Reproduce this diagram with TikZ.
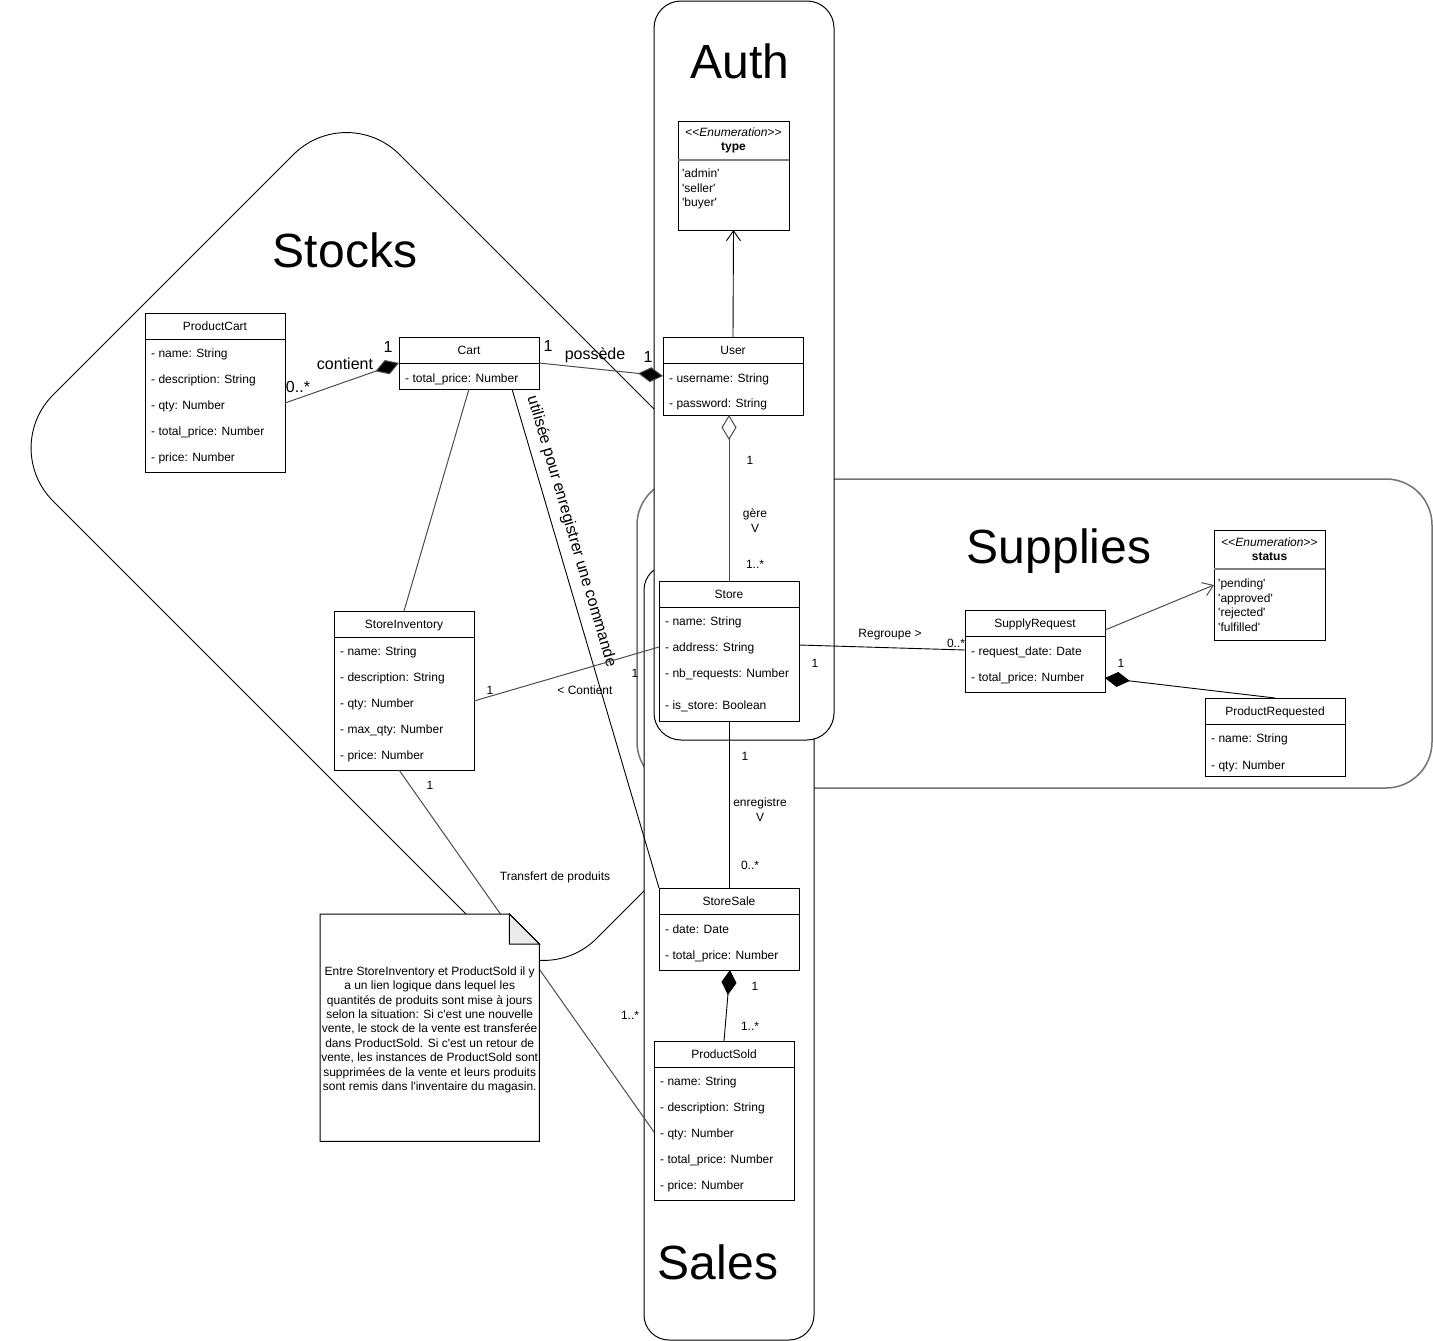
\documentclass[tikz,border=0pt]{standalone}
\usepackage{fontspec}
\setmainfont{Liberation Sans}[Ligatures=TeXOff]
\usetikzlibrary{arrows.meta}
\newcommand{\setfs}[1]{\fontsize{#1pt}{#1pt}\selectfont}
\newcommand{\stL}{<\kern0pt<}
\newcommand{\stR}{>\kern0pt>}
\tikzset{
  box/.style={draw=black, line width=1pt, fill=white, inner sep=0pt, outer sep=0pt},
  cont/.style={draw=black, line width=1pt, fill=white},
  ctext/.style={font=\setfs{12}, inner sep=0pt, text height=8.5pt, text depth=0pt},
  lab/.style={font=\setfs{12}, inner sep=0pt, text height=8.5pt, text depth=0pt},
  labbig/.style={font=\setfs{16}, inner sep=0pt, text height=11.5pt, text depth=0pt},
  bigtitle/.style={font=\setfs{48}, inner sep=0pt, text height=34pt, text depth=0pt},
  conn/.style={draw=black!70, line width=1pt},
  connb/.style={draw=black, line width=0.9pt},
  comp/.style={-{Diamond[length=25pt,width=15pt,fill=black]}},
  aggr/.style={-{Diamond[length=25pt,width=15pt,fill=white]}},
  openarr/.style={-{Straight Barb[length=10pt,width=14pt]}},
}
\newcommand{\uclass}[6]{%
  \node[box, anchor=north west, minimum width=#4pt, minimum height=#5pt] (#1) at (#2,#3) {};
  \node[ctext] (#1-t) at ([yshift=-13pt]#1.north) {#6};
  \draw[line width=1pt] ([yshift=-26pt]#1.north west) -- ([yshift=-26pt]#1.north east);
}
\newcommand{\uattr}[3]{%
  \node[ctext, anchor=west] (#1-a#2) at ([xshift=6pt,yshift=-#2pt]#1.north west) {#3};
}
\begin{document}
\begin{tikzpicture}[x=1pt,y=-1pt]
\useasboundingbox (0,0) rectangle (1433,1341);
% containers
\draw[cont, line width=0.9pt, rounded corners=75pt] (173.25,274.75) -- (346.5,101.5) -- (890,645) -- (543.5,991.5) -- (0,448) -- cycle;
\draw[cont, draw=black!55, line width=1.5pt, rounded corners=46pt] (637,479) rectangle (1432,788);
\draw[cont, rounded corners=25pt] (644,565) rectangle (814,1340);
\draw[cont, rounded corners=27pt] (654,1) rectangle (834,740);
\node[bigtitle] (tAuth) at (740,61.5) {Auth};
\node[bigtitle] (tStocks) at (345,250.5) {Stocks};
\node[bigtitle] (tSupplies) at (1059,546.5) {Supplies};
\node[bigtitle] (tSales) at (718,1262) {Sales};

% enumeration type
\node[box, anchor=north west, minimum width=111pt, minimum height=109pt] (TY) at (678,121) {};
\node[ctext] (TY-s) at ([yshift=-11.5pt]TY.north) {\stL\textit{Enumeration}\stR};
\node[ctext, font=\setfs{12}\bfseries] (TY-n) at ([yshift=-25.5pt]TY.north) {type};
\draw[draw=black!50, line width=2pt] ([yshift=-39pt]TY.north west) -- ([yshift=-39pt]TY.north east);
\node[ctext, anchor=west] (TY-1) at ([xshift=4pt,yshift=-52.5pt]TY.north west) {'admin'};
\node[ctext, anchor=west] (TY-2) at ([xshift=4pt,yshift=-67pt]TY.north west) {'seller'};
\node[ctext, anchor=west] (TY-3) at ([xshift=4pt,yshift=-81.5pt]TY.north west) {'buyer'};

% enumeration status
\node[box, anchor=north west, minimum width=111pt, minimum height=110pt] (SS) at (1214,530) {};
\node[ctext] (SS-s) at ([yshift=-12pt]SS.north) {\stL\textit{Enumeration}\stR};
\node[ctext, font=\setfs{12}\bfseries] (SS-n) at ([yshift=-26pt]SS.north) {status};
\draw[draw=black!50, line width=2pt] ([yshift=-39pt]SS.north west) -- ([yshift=-39pt]SS.north east);
\node[ctext, anchor=west] (SS-1) at ([xshift=4pt,yshift=-53.5pt]SS.north west) {'pending'};
\node[ctext, anchor=west] (SS-2) at ([xshift=4pt,yshift=-68pt]SS.north west) {'approved'};
\node[ctext, anchor=west] (SS-3) at ([xshift=4pt,yshift=-82.5pt]SS.north west) {'rejected'};
\node[ctext, anchor=west] (SS-4) at ([xshift=4pt,yshift=-97pt]SS.north west) {'fulfilled'};

% classes
\uclass{PC}{145}{313}{140}{159}{ProductCart}
\uattr{PC}{40}{- name: String}
\uattr{PC}{66}{- description: String}
\uattr{PC}{92}{- qty: Number}
\uattr{PC}{118}{- total\_price: Number}
\uattr{PC}{144}{- price: Number}

\uclass{CA}{399}{337}{140}{52}{Cart}
\uattr{CA}{41}{- total\_price: Number}

\uclass{US}{663}{337}{140}{78}{User}
\uattr{US}{41}{- username: String}
\uattr{US}{66}{- password: String}

\uclass{SI}{334}{611}{140}{159}{StoreInventory}
\uattr{SI}{40}{- name: String}
\uattr{SI}{66}{- description: String}
\uattr{SI}{92}{- qty: Number}
\uattr{SI}{118}{- max\_qty: Number}
\uattr{SI}{144}{- price: Number}

\uclass{ST}{659}{581}{140}{140}{Store}
\uattr{ST}{40}{- name: String}
\uattr{ST}{66}{- address: String}
\uattr{ST}{92}{- nb\_requests: Number}
\uattr{ST}{124}{- is\_store: Boolean}

\uclass{SR}{965}{610}{140}{82}{SupplyRequest}
\uattr{SR}{41}{- request\_date: Date}
\uattr{SR}{67}{- total\_price: Number}

\uclass{PR}{1205}{698}{140}{78}{ProductRequested}
\uattr{PR}{40}{- name: String}
\uattr{PR}{67}{- qty: Number}

\uclass{SA}{659}{888}{140}{82}{StoreSale}
\uattr{SA}{41}{- date: Date}
\uattr{SA}{67}{- total\_price: Number}

\uclass{PS}{654}{1041}{140}{159}{ProductSold}
\uattr{PS}{40}{- name: String}
\uattr{PS}{66}{- description: String}
\uattr{PS}{92}{- qty: Number}
\uattr{PS}{118}{- total\_price: Number}
\uattr{PS}{144}{- price: Number}

% connectors
\draw[conn, comp] ([yshift=-10.5pt]PC.east) -- (CA.west);
\draw[conn, comp] (CA.east) -- (US.west);
\draw[connb, openarr] (US.north) -- (TY.south);
\draw[conn, aggr] (ST.north) -- (ST.north |- US.south);
\draw[conn] (CA.south) -- (SI.north);
\draw[connb] ([xshift=43pt]CA.south) -- (SA.north west)
  node[labbig, sloped, above=12pt, pos=0.295] (lUse) {utilisée pour enregistrer une commande};
\draw[conn] ([yshift=-10.5pt]SI.east) -- ([yshift=4pt]ST.west);
\draw[connb] ([yshift=6pt]ST.east) -- ([yshift=1pt]SR.west);
\draw[conn, openarr] ([yshift=21pt]SR.east) -- (SS.west);
\draw[connb, comp] (PR.north) -- ([yshift=-27pt]SR.east);
\draw[connb] (ST.south) -- (SA.north);
\draw[connb, comp] (PS.north) -- ([xshift=1pt]SA.south);
\draw[conn] ([xshift=-5pt]SI.south) -- ([yshift=-11.5pt]PS.west);

% labels
\node[labbig] (l1) at (298,387) {0..*};
\node[labbig] (l2) at (345,364) {contient};
\node[labbig] (l3) at (388,347) {1};
\node[labbig] (l4) at (548,346) {1};
\node[labbig] (l5) at (595,354) {possède};
\node[labbig] (l6) at (648,357) {1};
\node[lab] (l7) at (750,460) {1};
\node[lab] (l8) at (755,513) {gère};
\node[lab] (l9) at (755,528) {V};
\node[lab] (l10) at (755,564) {1..*};
\node[lab] (l11) at (490,690) {1};
\node[lab] (l12) at (585,690) {< Contient};
\node[lab] (l13) at (635,673) {1};
\node[lab] (l14) at (890,633) {Regroupe >};
\node[lab] (l15) at (956,643) {0..*};
\node[lab] (l16) at (815,663) {1};
\node[lab] (l17) at (1121,663) {1};
\node[lab] (l18) at (745,756) {1};
\node[lab] (l19) at (760,802) {enregistre};
\node[lab] (l20) at (760,817) {V};
\node[lab] (l21) at (750,865) {0..*};
\node[lab] (l22) at (755,986) {1};
\node[lab] (l23) at (750,1026) {1..*};
\node[lab] (l24) at (430,785) {1};
\node[lab] (l25) at (630,1015) {1..*};
\node[lab] (l26) at (555,876) {Transfert de produits};

% note
\node[inner sep=0pt, minimum width=219pt, minimum height=227pt, anchor=north west] (NT) at (320,914) {};
\filldraw[fill=white, draw=black, line width=1pt] (NT.north west) -- ([xshift=-30pt]NT.north east) -- ([yshift=-30pt]NT.north east) -- (NT.south east) -- (NT.south west) -- cycle;
\filldraw[fill=black!8, draw=black, line width=1pt] ([xshift=-30pt]NT.north east) -- ([xshift=-30pt,yshift=-30pt]NT.north east) -- ([yshift=-30pt]NT.north east) -- cycle;
\node[font=\fontsize{12pt}{14.4pt}\selectfont, align=center, inner sep=0pt] (NTtext) at ([yshift=-2pt]NT.center)
 {Entre StoreInventory et ProductSold il y\\a un lien logique dans lequel les\\quantités de produits sont mise à jours\\selon la situation: Si c'est une nouvelle\\vente, le stock de la vente est transferée\\dans ProductSold. Si c'est un retour de\\vente, les instances de ProductSold sont\\supprimées de la vente et leurs produits\\sont remis dans l'inventaire du magasin.};
\end{tikzpicture}
\end{document}
